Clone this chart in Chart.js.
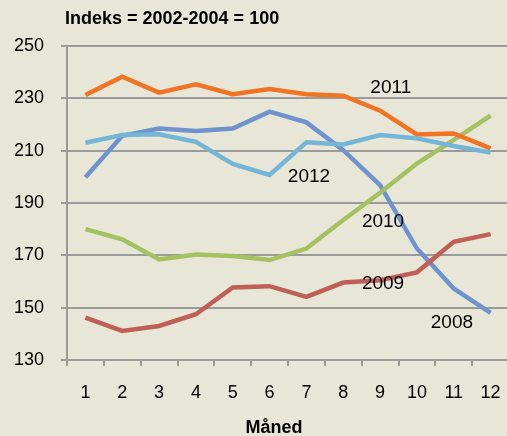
<!DOCTYPE html>
<html>
<head>
<meta charset="utf-8">
<script src="https://cdn.jsdelivr.net/npm/chart.js@4"></script>
<style>
  html, body { margin: 0; padding: 0; background: #e8e6d6; overflow: hidden; }
  #wrap { width: 512px; height: 436px; position: relative; }
</style>
</head>
<body>
<div id="wrap"><canvas id="chart"></canvas></div>
<script>
const months = ['1', '2', '3', '4', '5', '6', '7', '8', '9', '10', '11', '12'];
const years = ['2008', '2009', '2010', '2011', '2012'];
const v2008 = [199.8, 215.7, 218.5, 217.5, 218.5, 224.9, 220.8, 210.2, 196.8, 172.6, 157.3, 148.0];
const v2009 = [146.2, 141.1, 143.0, 147.5, 157.7, 158.2, 154.1, 159.6, 160.5, 163.5, 175.2, 178.1];
const v2010 = [180.0, 176.1, 168.4, 170.3, 169.7, 168.2, 172.6, 183.5, 193.9, 205.1, 214.1, 223.4];
const v2011 = [231.3, 238.3, 232.2, 235.4, 231.6, 233.6, 231.6, 231.0, 225.3, 216.2, 216.6, 210.9];
const v2012 = [213.0, 216.0, 216.3, 213.4, 204.9, 200.7, 213.2, 212.4, 216.0, 214.7, 211.8, 209.3];
const yTicks = [130, 150, 170, 190, 210, 230, 250];

// etiketter i plottet (x = månedsindeks fra 0)
const labelX = [9.95, 8.08, 8.08, 8.29, 6.07];
const labelY = [144.1, 159.0, 182.7, 233.9, 199.9];

const colors = ['#6e93cf', '#be5f58', '#a6c162', '#f07424', '#74b6d7'];
const series = [v2008, v2009, v2010, v2011, v2012];

const FONT = '"Liberation Sans", Arial, sans-serif';
const gridColor = '#9b9b9b';

const textPlugin = {
  id: 'texts',
  afterDraw(chart) {
    const { ctx, scales: { x, y }, chartArea } = chart;
    ctx.save();
    ctx.fillStyle = '#000';
    ctx.textBaseline = 'middle';
    ctx.font = '19px ' + FONT;
    ctx.textAlign = 'center';
    years.forEach((yr, i) => {
      ctx.fillText(yr, x.getPixelForValue(labelX[i]), y.getPixelForValue(labelY[i]));
    });
    ctx.font = 'bold 18px ' + FONT;
    ctx.textAlign = 'left';
    ctx.fillText('Indeks = 2002-2004 = 100', chartArea.left - 2, 19);
    ctx.textAlign = 'center';
    ctx.fillText('Måned', 274, 428);
    ctx.restore();
  }
};

new Chart(document.getElementById('chart'), {
  type: 'line',
  data: {
    labels: months,
    datasets: years.map((yr, i) => ({
      label: yr,
      data: series[i],
      borderColor: colors[i],
      backgroundColor: colors[i],
      borderWidth: 4.5,
      pointRadius: 0,
      tension: 0,
      order: years.length - i,
    })),
  },
  options: {
    responsive: true,
    maintainAspectRatio: false,
    animation: false,
    layout: { padding: { top: 46, right: 3, bottom: 0, left: 0 } },
    plugins: {
      legend: { display: false },
      tooltip: { enabled: false },
    },
    scales: {
      x: {
        offset: true,
        afterFit: s => { s.height = 76; },
        grid: {
          offset: true,
          drawOnChartArea: false,
          drawTicks: true,
          tickLength: 6,
          color: gridColor,
          lineWidth: 2,
        },
        border: { color: gridColor, width: 2 },
        // lineHeight skubber etiketterne ned uden at krympe plotbredden
        ticks: { color: '#000', font: { family: FONT, size: 18, lineHeight: 3 }, padding: 0, maxRotation: 0 },
      },
      y: {
        min: 130,
        max: 250,
        afterFit: s => { s.width = 67; },
        afterBuildTicks: s => { s.ticks = yTicks.map(v => ({ value: v })); },
        grid: { color: gridColor, lineWidth: 2, tickLength: 6 },
        border: { color: gridColor, width: 2 },
        ticks: { color: '#000', font: { family: FONT, size: 18 }, padding: 17 },
      },
    },
  },
  plugins: [textPlugin],
});
</script>
</body>
</html>
